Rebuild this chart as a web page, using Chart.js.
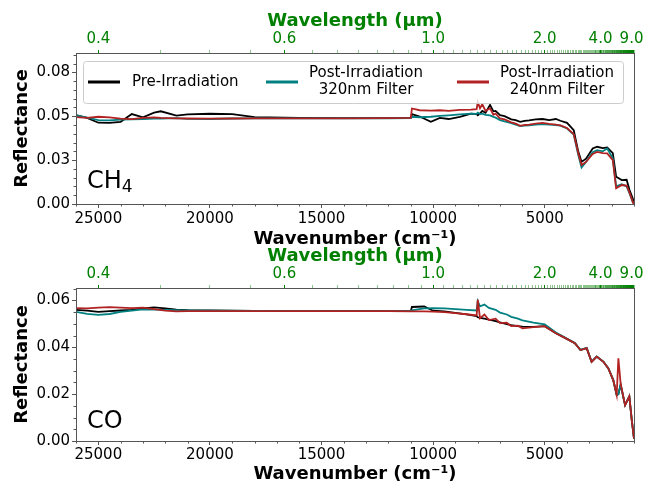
<!DOCTYPE html>
<html>
<head>
<meta charset="utf-8">
<script src="https://cdn.jsdelivr.net/npm/chart.js@4.4.0/dist/chart.umd.min.js"></script>
<style>
  html, body { margin: 0; padding: 0; background: #fff; }
  #wrap { position: relative; width: 645px; height: 485px; }
  canvas { position: absolute; left: 0; }
</style>
</head>
<body>
<div id="wrap">
  <canvas id="ch4" width="645" height="250" style="top:0px"></canvas>
  <canvas id="co" width="645" height="240" style="top:245px"></canvas>
</div>
<script>
// series
const seriesNames = ["Pre-Irradiation", "Post-Irradiation\n320nm Filter", "Post-Irradiation\n240nm Filter"];
const seriesColors = ["#000000", "#008080", "#b22222"];

// CH4 panel (wavenumber in cm-1, reflectance)
const ch4Wavenumber = [26000, 25500, 25000, 24500, 24000, 23500, 23000, 22500, 22200, 21500,
  21000, 20000, 19000, 18000, 16000, 14000, 12000, 11000, 10950, 10600,
  10100, 9700, 9300, 8800, 8300, 8050, 8000, 7900, 7800, 7650,
  7450, 7300, 7200, 7000, 6800, 6500, 6300, 6100, 5900, 5700,
  5400, 5100, 4800, 4500, 4300, 4000, 3700, 3500, 3350, 3150,
  2850, 2650, 2400, 2200, 1950, 1800, 1550, 1330, 1200, 1050,
  1000];
const ch4Pre = [0.0506, 0.0490, 0.0463, 0.0462, 0.0468, 0.0512, 0.0494, 0.0520, 0.0528, 0.0503,
  0.0510, 0.0514, 0.0512, 0.0495, 0.0490, 0.0489, 0.0489, 0.0490, 0.0512, 0.0498,
  0.0468, 0.0490, 0.0484, 0.0496, 0.0515, 0.0512, 0.0505, 0.0515, 0.0530, 0.0520,
  0.0565, 0.0528, 0.0530, 0.0506, 0.0500, 0.0482, 0.0478, 0.0468, 0.0474, 0.0476,
  0.0482, 0.0484, 0.0478, 0.0484, 0.0474, 0.0462, 0.0420, 0.0300, 0.0240, 0.0258,
  0.0316, 0.0326, 0.0318, 0.0322, 0.0290, 0.0155, 0.0136, 0.0138, 0.0080, 0.0030,
  0.0010];
const ch4Post320 = [0.0505, 0.0492, 0.0478, 0.0476, 0.0480, 0.0482, 0.0484, 0.0487, 0.0486, 0.0489,
  0.0485, 0.0484, 0.0487, 0.0488, 0.0488, 0.0488, 0.0488, 0.0489, 0.0496, 0.0494,
  0.0497, 0.0502, 0.0505, 0.0510, 0.0515, 0.0513, 0.0520, 0.0512, 0.0515, 0.0508,
  0.0505, 0.0496, 0.0492, 0.0478, 0.0470, 0.0460, 0.0452, 0.0444, 0.0446, 0.0448,
  0.0452, 0.0455, 0.0452, 0.0450, 0.0446, 0.0430, 0.0395, 0.0280, 0.0208, 0.0240,
  0.0295, 0.0307, 0.0300, 0.0316, 0.0260, 0.0100, 0.0112, 0.0100, 0.0060, 0.0010,
  0.0000];
const ch4Post240 = [0.0495, 0.0490, 0.0497, 0.0493, 0.0486, 0.0483, 0.0490, 0.0493, 0.0490, 0.0488,
  0.0487, 0.0486, 0.0487, 0.0488, 0.0488, 0.0488, 0.0489, 0.0490, 0.0544, 0.0534,
  0.0532, 0.0534, 0.0530, 0.0536, 0.0538, 0.0540, 0.0580, 0.0545, 0.0568, 0.0530,
  0.0545, 0.0508, 0.0515, 0.0487, 0.0482, 0.0465, 0.0458, 0.0445, 0.0450, 0.0452,
  0.0458, 0.0462, 0.0456, 0.0452, 0.0448, 0.0433, 0.0398, 0.0290, 0.0222, 0.0240,
  0.0285, 0.0297, 0.0290, 0.0288, 0.0250, 0.0089, 0.0108, 0.0105, 0.0065, 0.0010,
  0.0000];

// CO panel
const coWavenumber = [26000, 25500, 25000, 24500, 24000, 23500, 23000, 22500, 22000, 21500,
  21000, 20000, 18000, 15000, 12000, 11000, 10950, 10400, 10000, 9500,
  9000, 8500, 8050, 8000, 7900, 7700, 7500, 7200, 7000, 6700,
  6500, 6200, 6000, 5500, 5000, 4500, 4050, 3650, 3400, 3120,
  2900, 2670, 2370, 2150, 1930, 1775, 1700, 1600, 1400, 1210,
  1100, 1000];
const coPre = [0.0560, 0.0556, 0.0551, 0.0554, 0.0557, 0.0560, 0.0566, 0.0570, 0.0566, 0.0561,
  0.0558, 0.0557, 0.0555, 0.0554, 0.0554, 0.0554, 0.0572, 0.0574, 0.0556, 0.0553,
  0.0547, 0.0540, 0.0533, 0.0528, 0.0526, 0.0522, 0.0518, 0.0512, 0.0506, 0.0499,
  0.0495, 0.0490, 0.0488, 0.0487, 0.0490, 0.0460, 0.0438, 0.0417, 0.0388, 0.0396,
  0.0338, 0.0360, 0.0338, 0.0310, 0.0260, 0.0196, 0.0200, 0.0240, 0.0153, 0.0190,
  0.0089, 0.0010];
const coPost320 = [0.0551, 0.0543, 0.0538, 0.0542, 0.0551, 0.0556, 0.0562, 0.0561, 0.0560, 0.0558,
  0.0557, 0.0556, 0.0555, 0.0554, 0.0554, 0.0554, 0.0558, 0.0566, 0.0567, 0.0566,
  0.0563, 0.0560, 0.0557, 0.0597, 0.0575, 0.0582, 0.0568, 0.0560, 0.0548, 0.0540,
  0.0530, 0.0522, 0.0515, 0.0505, 0.0498, 0.0463, 0.0439, 0.0418, 0.0389, 0.0397,
  0.0339, 0.0361, 0.0339, 0.0311, 0.0261, 0.0197, 0.0200, 0.0241, 0.0154, 0.0190,
  0.0090, 0.0010];
const coPost240 = [0.0567, 0.0566, 0.0569, 0.0571, 0.0569, 0.0567, 0.0569, 0.0563, 0.0556, 0.0553,
  0.0554, 0.0554, 0.0554, 0.0554, 0.0554, 0.0553, 0.0553, 0.0553, 0.0552, 0.0550,
  0.0546, 0.0541, 0.0536, 0.0603, 0.0524, 0.0540, 0.0516, 0.0522, 0.0503, 0.0505,
  0.0490, 0.0492, 0.0481, 0.0486, 0.0490, 0.0460, 0.0438, 0.0417, 0.0388, 0.0396,
  0.0338, 0.0360, 0.0338, 0.0310, 0.0260, 0.0196, 0.0353, 0.0246, 0.0153, 0.0191,
  0.0089, 0.0010];

// axis ticks
const wavenumberLabels = [25000, 20000, 15000, 10000, 5000];
const wavelengthLabels = [0.4, 0.6, 1.0, 2.0, 4.0, 9.0];
const ch4YTicks = [0, 0.025, 0.05, 0.075];
const ch4YLabels = ["0.00", "0.03", "0.05", "0.08"];
const coYTicks = [0, 0.02, 0.04, 0.06];
const coYLabels = ["0.00", "0.02", "0.04", "0.06"];

Chart.defaults.font.family = "'DejaVu Sans', sans-serif";
Chart.defaults.color = "#000";

const SPINE = "#555";
const GREEN = "#008000";

function isMajor(list, v) {
  return list.some(m => Math.abs(m - v) < 1e-9);
}

// minor ticks, frame, panel name and legend
const panelDecor = {
  id: "panelDecor",
  afterDatasetsDraw(chart, args, o) {
    const ctx = chart.ctx;
    const a = chart.chartArea;
    const xs = chart.scales.x, ys = chart.scales.y;
    ctx.save();
    ctx.strokeStyle = SPINE;
    ctx.lineWidth = 1;
    ctx.beginPath();
    xs.ticks.forEach(t => {
      if (t.value % 5000 !== 0) {
        const p = Math.round(xs.getPixelForValue(t.value)) + 0.5;
        ctx.moveTo(p, a.bottom);
        ctx.lineTo(p, a.bottom + 2.5);
      }
    });
    ys.ticks.forEach(t => {
      if (!isMajor(o.yMajor, t.value)) {
        const p = Math.round(ys.getPixelForValue(t.value)) + 0.5;
        ctx.moveTo(a.left - 2.5, p);
        ctx.lineTo(a.left, p);
      }
    });
    ctx.stroke();
    ctx.strokeRect(Math.round(a.left) + 0.5, Math.round(a.top) + 0.5, Math.round(a.width), Math.round(a.height));

    // panel name
    ctx.fillStyle = "#000";
    ctx.textBaseline = "alphabetic";
    ctx.textAlign = "left";
    ctx.font = "24px 'DejaVu Sans'";
    ctx.fillText(o.name, a.left + 11, o.nameY);
    if (o.sub) {
      const w = ctx.measureText(o.name).width;
      ctx.font = "17px 'DejaVu Sans'";
      ctx.fillText(o.sub, a.left + 11 + w, o.nameY + 4);
    }

    if (o.legend) {
      const bx = 83, by = 61, bw = 540, bh = 42;
      ctx.beginPath();
      ctx.roundRect(bx + 0.5, by + 0.5, bw, bh, 3);
      ctx.fillStyle = "rgba(255,255,255,0.8)";
      ctx.fill();
      ctx.strokeStyle = "#cccccc";
      ctx.stroke();
      const lineX = [88, 266, 457];
      const textX = [132, 366, 557];
      ctx.font = "15px 'DejaVu Sans'";
      ctx.textBaseline = "middle";
      chart.data.datasets.forEach((ds, i) => {
        ctx.strokeStyle = ds.borderColor;
        ctx.lineWidth = 3;
        ctx.beginPath();
        ctx.moveTo(lineX[i], 82);
        ctx.lineTo(lineX[i] + 32, 82);
        ctx.stroke();
        ctx.fillStyle = "#000";
        const lines = ds.label.split("\n");
        if (lines.length === 1) {
          ctx.textAlign = "left";
          ctx.fillText(lines[0], textX[i], 82);
        } else {
          ctx.textAlign = "center";
          ctx.fillText(lines[0], textX[i], 73);
          ctx.fillText(lines[1], textX[i], 90);
        }
      });
    }
    ctx.restore();
  }
};

function buildPanel(canvasId, wn, series, cfg) {
  const datasets = series.map((vals, i) => ({
    label: seriesNames[i],
    data: wn.map((x, j) => ({ x: x, y: vals[j] })),
    borderColor: seriesColors[i],
    borderWidth: 1.8,
    pointRadius: 0,
    tension: 0,
    fill: false,
    order: 3 - i
  }));

  const yAll = [];
  for (let k = 0; k * 0.005 <= cfg.yMax; k++) yAll.push(Math.round(k * 5) / 1000);

  const xAll = [];
  for (let v = 1000; v <= 26000; v += 1000) xAll.push(v);

  const topAll = [];
  for (let k = 8; k <= 200; k++) topAll.push({ lam: k / 20, value: 1e4 / (k / 20) });

  return new Chart(document.getElementById(canvasId).getContext("2d"), {
    type: "line",
    data: { datasets },
    options: {
      responsive: false,
      animation: false,
      devicePixelRatio: 1,
      layout: { padding: { left: 0, right: 11, top: 0, bottom: 0 } },
      plugins: {
        legend: { display: false },
        tooltip: { enabled: false },
        panelDecor: { yMajor: cfg.yTicks, name: cfg.name, sub: cfg.sub, nameY: cfg.nameY, legend: cfg.legend }
      },
      scales: {
        x: {
          type: "linear",
          position: "bottom",
          min: 1000,
          max: 26000,
          reverse: true,
          afterBuildTicks: s => { s.ticks = xAll.map(v => ({ value: v })); },
          afterFit: s => { s.height = cfg.bottomH; s.paddingLeft = 0; s.paddingRight = 0; },
          ticks: {
            autoSkip: false, maxRotation: 0, padding: cfg.xTickPad,
            font: { size: 15 }, color: "#000",
            callback: v => wavenumberLabels.includes(v) ? String(v) : ""
          },
          grid: {
            drawOnChartArea: false, tickLength: 4, tickWidth: 1,
            tickColor: c => (c.tick && wavenumberLabels.includes(c.tick.value)) ? SPINE : "rgba(0,0,0,0)"
          },
          border: { display: false },
          title: {
            display: true, text: "Wavenumber (cm⁻¹)", color: "#000",
            font: { size: 18, weight: "bold" }, padding: { top: 0, bottom: 0 }
          }
        },
        x2: {
          type: "linear",
          position: "top",
          min: 1000,
          max: 26000,
          reverse: true,
          afterBuildTicks: s => { s.ticks = topAll.map(t => ({ value: t.value })); },
          afterFit: s => { s.height = cfg.topH; s.paddingLeft = 0; s.paddingRight = 0; },
          ticks: {
            autoSkip: false, maxRotation: 0, padding: 1.5,
            font: { size: 15 }, color: GREEN,
            callback: v => {
              const lam = Math.round(1e5 / v) / 10;
              return isMajor(wavelengthLabels, lam) && Math.abs(1e4 / v - lam) < 1e-6 ? lam.toFixed(1) : "";
            }
          },
          grid: {
            drawOnChartArea: false, tickLength: 3, tickWidth: 1,
            tickColor: c => {
              if (!c.tick) return GREEN;
              const lam = 1e4 / c.tick.value;
              return isMajor(wavelengthLabels, Math.round(lam * 100) / 100) ? GREEN : "rgba(0,128,0,0.45)";
            }
          },
          border: { display: false },
          title: {
            display: true, text: "Wavelength (µm)", color: GREEN,
            font: { size: 18, weight: "bold" }, padding: { top: cfg.topTitlePad, bottom: 0 }
          }
        },
        y: {
          type: "linear",
          min: 0,
          max: cfg.yMax,
          afterBuildTicks: s => { s.ticks = yAll.map(v => ({ value: v })); },
          afterFit: s => { s.width = 76; s.paddingTop = 0; s.paddingBottom = 0; },
          ticks: {
            autoSkip: false, padding: 2,
            font: { size: 15 }, color: "#000",
            callback: v => {
              const k = cfg.yTicks.findIndex(m => Math.abs(m - v) < 1e-9);
              return k >= 0 ? cfg.yLabels[k] : "";
            }
          },
          grid: {
            drawOnChartArea: false, tickLength: 4, tickWidth: 1,
            tickColor: c => (c.tick && isMajor(cfg.yTicks, c.tick.value)) ? SPINE : "rgba(0,0,0,0)"
          },
          border: { display: false },
          title: {
            display: true, text: "Reflectance", color: "#000",
            font: { size: 18, weight: "bold" }, padding: { top: 12, bottom: 0 }
          }
        }
      }
    },
    plugins: [panelDecor]
  });
}

buildPanel("ch4", ch4Wavenumber, [ch4Pre, ch4Post320, ch4Post240], {
  yMax: 0.086, yTicks: ch4YTicks, yLabels: ch4YLabels,
  topH: 53, bottomH: 46, topTitlePad: 11, xTickPad: 2,
  name: "CH", sub: "4", nameY: 188, legend: true
});

buildPanel("co", coWavenumber, [coPre, coPost320, coPost240], {
  yMax: 0.0653, yTicks: coYTicks, yLabels: coYLabels,
  topH: 43, bottomH: 44, topTitlePad: 1, xTickPad: 1,
  name: "CO", sub: "", nameY: 183, legend: false
});
</script>
</body>
</html>
